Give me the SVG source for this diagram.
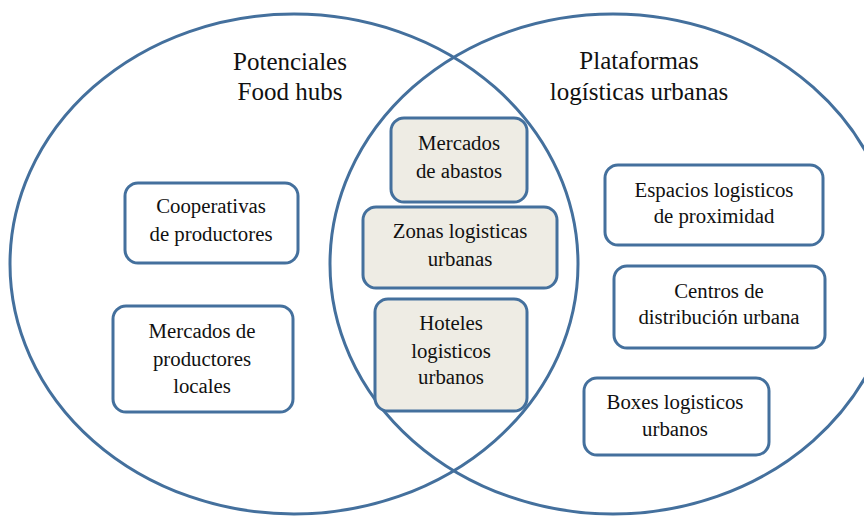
<svg xmlns="http://www.w3.org/2000/svg" width="864" height="516" viewBox="0 0 864 516">
<style>
.ring{fill:none;stroke:#44709d;stroke-width:3}
.box{fill:#ffffff;stroke:#44709d;stroke-width:3}
.shared{fill:#eeece4;stroke:#44709d;stroke-width:3}
text{fill:#111;text-anchor:middle}
.title{font-size:25px}
.lbl{font-size:20.8px}
</style>
<rect width="864" height="516" fill="#ffffff"/>
<g id="sets">
<ellipse class="ring" cx="294" cy="264" rx="284" ry="250"/>
<ellipse class="ring" cx="613" cy="264" rx="283" ry="250"/>
</g>
<g font-family="Liberation Serif, DejaVu Serif, serif">
<g id="title-left"><text class="title" x="290" y="70">Potenciales</text><text class="title" x="290" y="100">Food hubs</text></g>
<g id="title-right"><text class="title" x="639" y="69">Plataformas</text><text class="title" x="639" y="100">logísticas urbanas</text></g>
<g id="cooperativas"><rect class="box" x="125" y="183" width="173" height="80" rx="13"/><text class="lbl" x="211" y="213">Cooperativas</text><text class="lbl" x="211" y="241">de productores</text></g>
<g id="mercados-productores"><rect class="box" x="113" y="306" width="180" height="106" rx="13"/><text class="lbl" x="202" y="338">Mercados de</text><text class="lbl" x="202" y="366">productores</text><text class="lbl" x="202" y="393">locales</text></g>
<g id="mercados-abastos"><rect class="shared" x="391" y="118" width="136" height="84" rx="13"/><text class="lbl" x="459" y="150">Mercados</text><text class="lbl" x="459" y="178">de abastos</text></g>
<g id="zonas"><rect class="shared" x="363" y="207" width="194" height="81" rx="13"/><text class="lbl" x="460" y="238">Zonas logisticas</text><text class="lbl" x="460" y="266">urbanas</text></g>
<g id="hoteles"><rect class="shared" x="375" y="299" width="152" height="112" rx="13"/><text class="lbl" x="451" y="330">Hoteles</text><text class="lbl" x="451" y="358">logisticos</text><text class="lbl" x="451" y="384">urbanos</text></g>
<g id="espacios"><rect class="box" x="605" y="165" width="218" height="80" rx="13"/><text class="lbl" x="714" y="197">Espacios logisticos</text><text class="lbl" x="714" y="223">de proximidad</text></g>
<g id="centros"><rect class="box" x="614" y="266" width="211" height="82" rx="13"/><text class="lbl" x="719" y="298">Centros de</text><text class="lbl" x="719" y="324">distribución urbana</text></g>
<g id="boxes"><rect class="box" x="584" y="378" width="185" height="77" rx="13"/><text class="lbl" x="675" y="409">Boxes logisticos</text><text class="lbl" x="675" y="436">urbanos</text></g>
</g>
<g id="connectors"></g>
</svg>
